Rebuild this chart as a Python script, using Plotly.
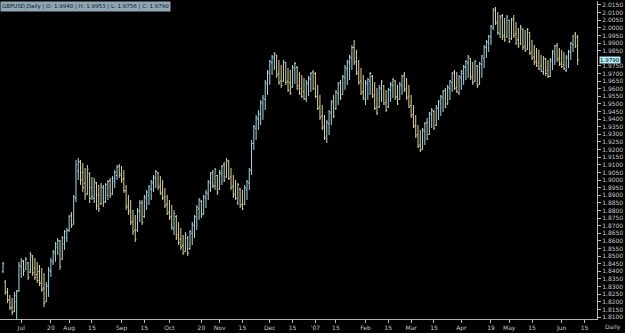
import pandas as pd
import plotly.graph_objects as go

# ---------------- data (GBPUSD daily) ----------------
high = [1.8462,1.8343,1.8291,1.8245,1.8225,1.8265,1.8278,1.8462,1.8488,1.8475,
        1.8495,1.8462,1.8527,1.8508,1.8488,1.8462,1.8442,1.8422,1.8389,1.8330,
        1.8429,1.8488,1.8541,1.8593,1.8619,1.8606,1.8632,1.8672,1.8685,1.8770,
        1.8790,1.8902,1.9132,1.9145,1.9132,1.9112,1.9079,1.9099,1.9053,1.9020,
        1.9014,1.8987,1.8968,1.8981,1.8968,1.8981,1.9000,1.9014,1.9027,1.9066,
        1.9099,1.9106,1.9092,1.9066,1.8968,1.8902,1.8869,1.8803,1.8770,1.8816,
        1.8869,1.8869,1.8902,1.8935,1.8968,1.9000,1.9033,1.9066,1.9053,1.9027,
        1.9000,1.8948,1.8902,1.8869,1.8836,1.8803,1.8770,1.8724,1.8685,1.8639,
        1.8659,1.8632,1.8672,1.8724,1.8770,1.8836,1.8882,1.8869,1.8902,1.8935,
        1.9000,1.9053,1.9066,1.9079,1.9033,1.9066,1.9099,1.9119,1.9145,1.9132,
        1.9079,1.9033,1.9000,1.8981,1.8948,1.8935,1.8968,1.9000,1.9079,1.9263,
        1.9362,1.9427,1.9460,1.9526,1.9559,1.9657,1.9723,1.9789,1.9822,1.9841,
        1.9822,1.9789,1.9756,1.9789,1.9776,1.9736,1.9723,1.9756,1.9776,1.9749,
        1.9710,1.9690,1.9671,1.9657,1.9684,1.9710,1.9723,1.9710,1.9625,1.9559,
        1.9493,1.9427,1.9395,1.9460,1.9526,1.9559,1.9592,1.9644,1.9657,1.9690,
        1.9756,1.9789,1.9822,1.9887,1.9920,1.9855,1.9789,1.9736,1.9690,1.9657,
        1.9671,1.9710,1.9690,1.9644,1.9605,1.9625,1.9657,1.9625,1.9592,1.9605,
        1.9644,1.9671,1.9657,1.9625,1.9644,1.9690,1.9710,1.9671,1.9625,1.9559,
        1.9493,1.9427,1.9362,1.9329,1.9342,1.9381,1.9408,1.9447,1.9473,1.9460,
        1.9493,1.9526,1.9559,1.9592,1.9605,1.9625,1.9657,1.9710,1.9723,1.9710,
        1.9690,1.9723,1.9756,1.9789,1.9822,1.9802,1.9776,1.9789,1.9756,1.9776,
        1.9822,1.9887,1.9920,1.9953,2.0019,2.0130,2.0137,2.0104,2.0084,2.0091,
        2.0065,2.0084,2.0052,2.0065,2.0084,2.0038,1.9999,2.0019,1.9999,1.9986,
        1.9999,1.9973,1.9920,1.9887,1.9868,1.9855,1.9822,1.9815,1.9802,1.9789,
        1.9802,1.9855,1.9887,1.9900,1.9868,1.9855,1.9841,1.9822,1.9855,1.9907,
        1.9953,1.9973,1.9953]
low = [1.8389,1.8245,1.8192,1.8146,1.8113,1.8133,1.8081,1.8265,1.8357,1.8370,
       1.8409,1.8343,1.8389,1.8370,1.8343,1.8324,1.8304,1.8265,1.8166,1.8199,
       1.8232,1.8363,1.8442,1.8462,1.8508,1.8409,1.8475,1.8541,1.8593,1.8659,
       1.8685,1.8705,1.8856,1.9000,1.8968,1.8922,1.8869,1.8902,1.8849,1.8869,
       1.8849,1.8803,1.8790,1.8836,1.8823,1.8849,1.8869,1.8882,1.8902,1.8948,
       1.9000,1.9014,1.8981,1.8915,1.8803,1.8770,1.8705,1.8639,1.8593,1.8659,
       1.8724,1.8705,1.8751,1.8803,1.8836,1.8869,1.8922,1.8948,1.8935,1.8902,
       1.8869,1.8816,1.8770,1.8738,1.8672,1.8639,1.8606,1.8573,1.8541,1.8508,
       1.8527,1.8501,1.8541,1.8573,1.8619,1.8672,1.8738,1.8751,1.8770,1.8816,
       1.8869,1.8922,1.8948,1.8935,1.8902,1.8935,1.8968,1.8987,1.9014,1.9000,
       1.8935,1.8882,1.8869,1.8836,1.8816,1.8803,1.8836,1.8869,1.8935,1.9033,
       1.9198,1.9263,1.9329,1.9362,1.9395,1.9460,1.9559,1.9625,1.9690,1.9723,
       1.9671,1.9625,1.9605,1.9644,1.9625,1.9579,1.9559,1.9605,1.9631,1.9592,
       1.9559,1.9539,1.9526,1.9513,1.9552,1.9579,1.9592,1.9539,1.9460,1.9395,
       1.9329,1.9263,1.9243,1.9296,1.9362,1.9408,1.9460,1.9493,1.9526,1.9559,
       1.9592,1.9625,1.9657,1.9723,1.9756,1.9690,1.9625,1.9559,1.9526,1.9493,
       1.9526,1.9559,1.9539,1.9460,1.9427,1.9473,1.9513,1.9493,1.9447,1.9473,
       1.9513,1.9539,1.9526,1.9493,1.9526,1.9559,1.9579,1.9526,1.9473,1.9408,
       1.9342,1.9276,1.9211,1.9184,1.9198,1.9230,1.9263,1.9296,1.9342,1.9329,
       1.9355,1.9395,1.9421,1.9447,1.9473,1.9493,1.9526,1.9579,1.9592,1.9572,
       1.9559,1.9592,1.9625,1.9657,1.9671,1.9657,1.9625,1.9644,1.9605,1.9625,
       1.9671,1.9736,1.9802,1.9841,1.9887,1.9986,2.0019,1.9953,1.9933,1.9920,
       1.9907,1.9933,1.9900,1.9920,1.9933,1.9887,1.9868,1.9887,1.9855,1.9841,
       1.9855,1.9822,1.9789,1.9756,1.9743,1.9723,1.9710,1.9690,1.9684,1.9671,
       1.9677,1.9723,1.9756,1.9776,1.9749,1.9736,1.9723,1.9710,1.9736,1.9789,
       1.9841,1.9868,1.9756]
open_ = [1.8400,1.8330,1.8265,1.8215,1.8165,1.8135,1.8200,1.8275,1.8430,1.8465,
         1.8410,1.8455,1.8395,1.8500,1.8420,1.8380,1.8400,1.8330,1.8290,1.8200,
         1.8300,1.8400,1.8460,1.8520,1.8560,1.8600,1.8480,1.8580,1.8620,1.8670,
         1.8770,1.8710,1.8880,1.9060,1.9120,1.9050,1.8980,1.8910,1.9040,1.8950,
         1.8880,1.8980,1.8900,1.8845,1.8950,1.8860,1.8900,1.8995,1.8910,1.8990,
         1.9030,1.9090,1.9040,1.9010,1.8930,1.8830,1.8800,1.8730,1.8670,1.8670,
         1.8790,1.8850,1.8760,1.8880,1.8900,1.8940,1.8980,1.9010,1.9050,1.8960,
         1.8920,1.8890,1.8840,1.8790,1.8760,1.8680,1.8760,1.8640,1.8610,1.8570,
         1.8530,1.8620,1.8550,1.8650,1.8700,1.8750,1.8810,1.8860,1.8780,1.8880,
         1.8910,1.8980,1.9050,1.8960,1.9030,1.8940,1.9040,1.9100,1.9020,1.9120,
         1.9020,1.8960,1.8910,1.8850,1.8940,1.8840,1.8840,1.8940,1.8980,1.9060,
         1.9240,1.9340,1.9400,1.9430,1.9500,1.9530,1.9630,1.9700,1.9770,1.9800,
         1.9820,1.9700,1.9650,1.9650,1.9770,1.9650,1.9640,1.9610,1.9730,1.9740,
         1.9620,1.9600,1.9580,1.9530,1.9630,1.9660,1.9710,1.9700,1.9550,1.9480,
         1.9420,1.9350,1.9270,1.9370,1.9440,1.9520,1.9470,1.9570,1.9640,1.9560,
         1.9670,1.9730,1.9770,1.9800,1.9870,1.9780,1.9710,1.9650,1.9580,1.9530,
         1.9630,1.9650,1.9680,1.9560,1.9480,1.9480,1.9600,1.9620,1.9510,1.9480,
         1.9590,1.9620,1.9650,1.9550,1.9530,1.9620,1.9690,1.9600,1.9550,1.9490,
         1.9430,1.9360,1.9300,1.9230,1.9200,1.9320,1.9380,1.9300,1.9430,1.9450,
         1.9360,1.9470,1.9500,1.9540,1.9590,1.9500,1.9600,1.9640,1.9710,1.9610,
         1.9570,1.9670,1.9700,1.9740,1.9770,1.9800,1.9680,1.9650,1.9750,1.9630,
         1.9760,1.9800,1.9870,1.9900,1.9940,2.0000,2.0120,2.0040,1.9960,2.0080,
         1.9950,1.9940,2.0050,1.9930,2.0060,1.9960,1.9920,1.9895,1.9990,1.9880,
         1.9860,1.9970,1.9840,1.9810,1.9780,1.9770,1.9750,1.9710,1.9795,1.9720,
         1.9680,1.9780,1.9830,1.9885,1.9800,1.9770,1.9760,1.9720,1.9800,1.9840,
         1.9890,1.9960,1.9940]
close = [1.8450,1.8260,1.8210,1.8160,1.8130,1.8240,1.8270,1.8440,1.8470,1.8400,
         1.8480,1.8360,1.8510,1.8390,1.8360,1.8340,1.8320,1.8280,1.8190,1.8310,
         1.8410,1.8470,1.8530,1.8580,1.8600,1.8430,1.8620,1.8660,1.8670,1.8760,
         1.8700,1.8890,1.9100,1.9120,1.9000,1.8950,1.8900,1.9070,1.8880,1.8890,
         1.8990,1.8830,1.8810,1.8960,1.8850,1.8970,1.8990,1.8900,1.9010,1.9050,
         1.9085,1.9030,1.9000,1.8930,1.8820,1.8790,1.8720,1.8660,1.8610,1.8800,
         1.8850,1.8720,1.8890,1.8920,1.8955,1.8990,1.9020,1.9055,1.8950,1.8910,
         1.8880,1.8830,1.8780,1.8750,1.8690,1.8780,1.8620,1.8590,1.8560,1.8520,
         1.8640,1.8520,1.8660,1.8710,1.8760,1.8820,1.8870,1.8770,1.8890,1.8920,
         1.8990,1.9040,1.8960,1.9070,1.8920,1.9050,1.9090,1.9000,1.9130,1.9010,
         1.8950,1.8900,1.8880,1.8970,1.8830,1.8810,1.8950,1.8990,1.9070,1.9240,
         1.9350,1.9410,1.9440,1.9510,1.9540,1.9640,1.9710,1.9780,1.9810,1.9830,
         1.9690,1.9640,1.9620,1.9775,1.9640,1.9590,1.9570,1.9740,1.9765,1.9600,
         1.9570,1.9550,1.9535,1.9640,1.9670,1.9700,1.9600,1.9550,1.9470,1.9410,
         1.9340,1.9280,1.9380,1.9450,1.9510,1.9420,1.9580,1.9630,1.9540,1.9680,
         1.9740,1.9780,1.9810,1.9870,1.9770,1.9700,1.9640,1.9570,1.9540,1.9640,
         1.9660,1.9700,1.9550,1.9470,1.9440,1.9610,1.9645,1.9500,1.9460,1.9595,
         1.9630,1.9660,1.9540,1.9500,1.9630,1.9680,1.9590,1.9540,1.9480,1.9420,
         1.9350,1.9290,1.9220,1.9195,1.9330,1.9370,1.9270,1.9440,1.9460,1.9340,
         1.9480,1.9515,1.9550,1.9580,1.9480,1.9610,1.9650,1.9700,1.9600,1.9580,
         1.9680,1.9715,1.9745,1.9780,1.9810,1.9670,1.9640,1.9780,1.9620,1.9765,
         1.9815,1.9875,1.9910,1.9945,2.0010,2.0110,2.0030,1.9970,2.0070,1.9940,
         1.9920,2.0070,1.9910,2.0050,1.9950,1.9900,1.9880,2.0005,1.9870,1.9850,
         1.9990,1.9830,1.9800,1.9770,1.9750,1.9730,1.9715,1.9800,1.9700,1.9680,
         1.9790,1.9845,1.9880,1.9790,1.9760,1.9745,1.9730,1.9810,1.9845,1.9900,
         1.9945,1.9880,1.9790]

holidays = ["2006-12-25", "2007-01-01"]
first_day, calendar_end = "2006-06-21", "2007-07-06"

tick_dates = ["2006-07-03", "2006-07-20", "2006-08-01", "2006-08-15", "2006-09-01",
              "2006-09-15", "2006-10-02", "2006-10-20", "2006-11-01", "2006-11-15",
              "2006-12-01", "2006-12-15", "2007-01-02", "2007-01-15", "2007-02-01",
              "2007-02-15", "2007-03-01", "2007-03-15", "2007-04-02", "2007-04-19",
              "2007-05-01", "2007-05-15", "2007-06-01", "2007-06-15"]
tick_text = ["Jul", "20", "Aug", "15", "Sep", "15", "Oct", "20", "Nov", "15",
             "Dec", "15", "'07", "15", "Feb", "15", "Mar", "15", "Apr", "19",
             "May", "15", "Jun", "15"]

# price scale labels (1.9800 sits under the current-price box)
price_ticks = ["2.0150", "2.0100", "2.0050", "2.0000", "1.9950", "1.9900", "1.9850",
               "1.9750", "1.9700", "1.9650", "1.9600", "1.9550", "1.9500",
               "1.9450", "1.9400", "1.9350", "1.9300", "1.9250", "1.9200", "1.9150",
               "1.9100", "1.9050", "1.9000", "1.8950", "1.8900", "1.8850", "1.8800",
               "1.8750", "1.8700", "1.8650", "1.8600", "1.8550", "1.8500", "1.8450",
               "1.8400", "1.8350", "1.8300", "1.8250", "1.8200", "1.8150", "1.8100"]

symbol = "GBPUSD,Daily"
last_price = close[-1]

# ---------------- figure ----------------
cal = pd.bdate_range(first_day, calendar_end)
cal = [d for d in cal if d.strftime("%Y-%m-%d") not in holidays]
pos = {d.strftime("%Y-%m-%d"): i for i, d in enumerate(cal)}
n = len(close)
xs = list(range(n))

fig = go.Figure(go.Ohlc(
    x=xs, open=open_, high=high, low=low, close=close,
    increasing=dict(line=dict(color="#a6d6e2", width=1)),
    decreasing=dict(line=dict(color="#dcd49c", width=1)),
    tickwidth=0.5, hoverinfo="skip",
))

axis_col = "#b8b8b8"
fig.update_layout(
    width=625, height=333,
    paper_bgcolor="black", plot_bgcolor="black",
    margin=dict(l=0, r=28, t=1, b=14),
    showlegend=False,
    xaxis=dict(
        range=[-1.316, 260.5], rangeslider=dict(visible=False),
        showgrid=False, zeroline=False, showline=True, linecolor=axis_col, linewidth=1,
        tickvals=[pos[d] for d in tick_dates], ticktext=tick_text,
        ticks="outside", ticklen=3, tickcolor=axis_col,
        tickfont=dict(family="DejaVu Sans", size=6, color="#c8c8c8"),
        tickangle=0,
    ),
    yaxis=dict(
        side="right", range=[1.8087, 2.01762],
        showgrid=False, zeroline=False, showline=True, linecolor=axis_col, linewidth=1,
        tickvals=[float(t) for t in price_ticks], ticktext=price_ticks,
        ticks="outside", ticklen=3, tickcolor=axis_col,
        tickfont=dict(family="DejaVu Sans", size=6, color="#c8c8c8"),
    ),
    annotations=[
        dict(xref="paper", yref="paper", x=0, y=1, xanchor="left", yanchor="top",
             text=f"{symbol} | O: {open_[-1]:.4f} | H: {high[-1]:.4f} | L: {low[-1]:.4f} | C: {close[-1]:.4f}",
             showarrow=False, bgcolor="#8fa6b4", borderpad=1,
             font=dict(family="DejaVu Sans", size=5.5, color="#0b1a24")),
        dict(xref="paper", yref="y", x=1, y=last_price, xanchor="left", yanchor="middle",
             xshift=2, text=f"{last_price:.4f}", showarrow=False, bgcolor="#b4ecf8",
             borderpad=0, font=dict(family="DejaVu Sans", size=5.5, color="#000000")),
        dict(xref="paper", yref="paper", x=1, y=0, xanchor="left", yanchor="top",
             xshift=6, yshift=-2, text="Daily", showarrow=False,
             font=dict(family="DejaVu Sans", size=6, color="#c8c8c8")),
    ],
)

fig.write_html("out.html")
